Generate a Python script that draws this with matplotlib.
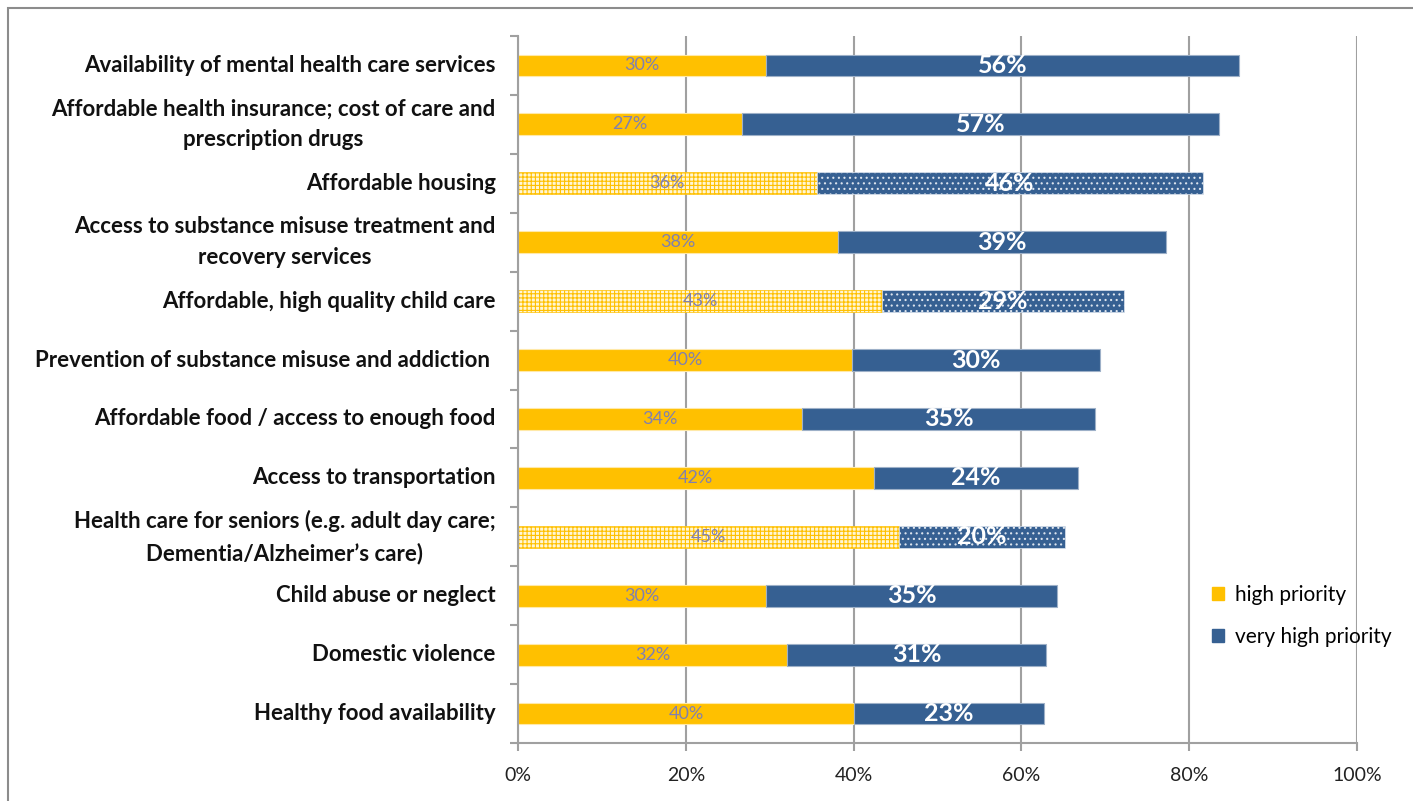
import numpy as np
import matplotlib.pyplot as plt
from matplotlib.patches import Patch, Rectangle

categories = [
    'Availability of mental health care services',
    'Affordable health insurance; cost of care and\nprescription drugs',
    'Affordable housing',
    'Access to substance misuse treatment and\nrecovery services',
    'Affordable, high quality child care',
    'Prevention of substance misuse and addiction ',
    'Affordable food / access to enough food',
    'Access to transportation',
    'Health care for seniors (e.g. adult day care;\nDementia/Alzheimer\u2019s care)',
    'Child abuse or neglect',
    'Domestic violence',
    'Healthy food availability',
]
high = [29.6, 26.7, 35.6, 38.1, 43.4, 39.8, 33.9, 42.4, 45.4, 29.6, 32.1, 40.1]
very_high = [56.3, 56.9, 46.0, 39.1, 28.8, 29.6, 34.9, 24.3, 19.8, 34.6, 30.8, 22.6]
hatched = [False, False, True, False, True, False, False, False, True, False, False, False]
xticks = [0, 20, 40, 60, 80, 100]

yellow = '#FFC000'
blue = '#366092'
grid_col = '#A0A0A0'

plt.rcParams['font.family'] = ['Lato', 'DejaVu Sans']
plt.rcParams['hatch.linewidth'] = 0.8

fig = plt.figure(figsize=(14.13, 8.01), dpi=100)
ax = fig.add_axes([518/1413, 1 - 743/801, 839/1413, 707/801])

y = np.arange(len(categories))
h = 0.37
for i in range(len(categories)):
    if hatched[i]:
        ax.barh(y[i], high[i], height=h, color='#FFF6D5', edgecolor=yellow,
                hatch='++++', linewidth=0.5, zorder=2)
        ax.barh(y[i], very_high[i], left=high[i], height=h, color=blue,
                edgecolor='#DCE4EE', hatch='...', linewidth=0.5, zorder=2)
    else:
        ax.barh(y[i], high[i], height=h, color=yellow, edgecolor='#FFE9A8',
                linewidth=0.8, zorder=2)
        ax.barh(y[i], very_high[i], left=high[i], height=h, color=blue,
                edgecolor='#9DB0C8', linewidth=0.8, zorder=2)
    ax.text(high[i] / 2, y[i], f'{high[i]:.0f}%', ha='center', va='center',
            fontsize=13, color='#8080B0', zorder=3)
    ax.text(high[i] + very_high[i] / 2, y[i], f'{very_high[i]:.0f}%', ha='center',
            va='center', fontsize=18, color='white', fontweight='bold', zorder=3)

ax.set_xlim(0, 100)
ax.set_ylim(len(categories) - 0.5, -0.5)
ax.set_xticks(xticks)
ax.set_xticklabels([f'{t}%' for t in xticks], fontsize=14, color='#222222')
ax.set_yticks(y)
ax.set_yticklabels(categories, fontsize=16, fontweight='bold', color='#111111')
for lab in ax.get_yticklabels():
    lab.set_multialignment('center')
    lab.set_linespacing(1.6)
    lab.set_verticalalignment('center')
ax.set_yticks(np.arange(len(categories) + 1) - 0.5, minor=True)
ax.tick_params(axis='y', which='major', length=0, pad=16)
ax.tick_params(axis='y', which='minor', length=6, width=1.5, color=grid_col)
ax.tick_params(axis='x', length=6, width=1.5, color=grid_col, pad=11)

ax.xaxis.grid(True, color=grid_col, linewidth=1.5, zorder=0)
ax.set_axisbelow(True)
for s in ['top', 'right']:
    ax.spines[s].set_visible(False)
for s in ['left', 'bottom']:
    ax.spines[s].set_color(grid_col)
    ax.spines[s].set_linewidth(1.5)

handles = [Patch(color=yellow, label='high priority'),
           Patch(color=blue, label='very high priority')]
fig.legend(handles=handles, loc='upper left', bbox_to_anchor=(1193/1413, 1 - 566/801),
           frameon=False, fontsize=15, handlelength=0.6, handleheight=0.6,
           handletextpad=0.5, labelspacing=1.05)

fig.patches.append(Rectangle((8/1413, -0.1), 1.2, 1 - 8/801 + 0.1,
                             transform=fig.transFigure, fill=False,
                             edgecolor='#8C8C8C', linewidth=1.5))

fig.savefig('out.png', dpi=100)
